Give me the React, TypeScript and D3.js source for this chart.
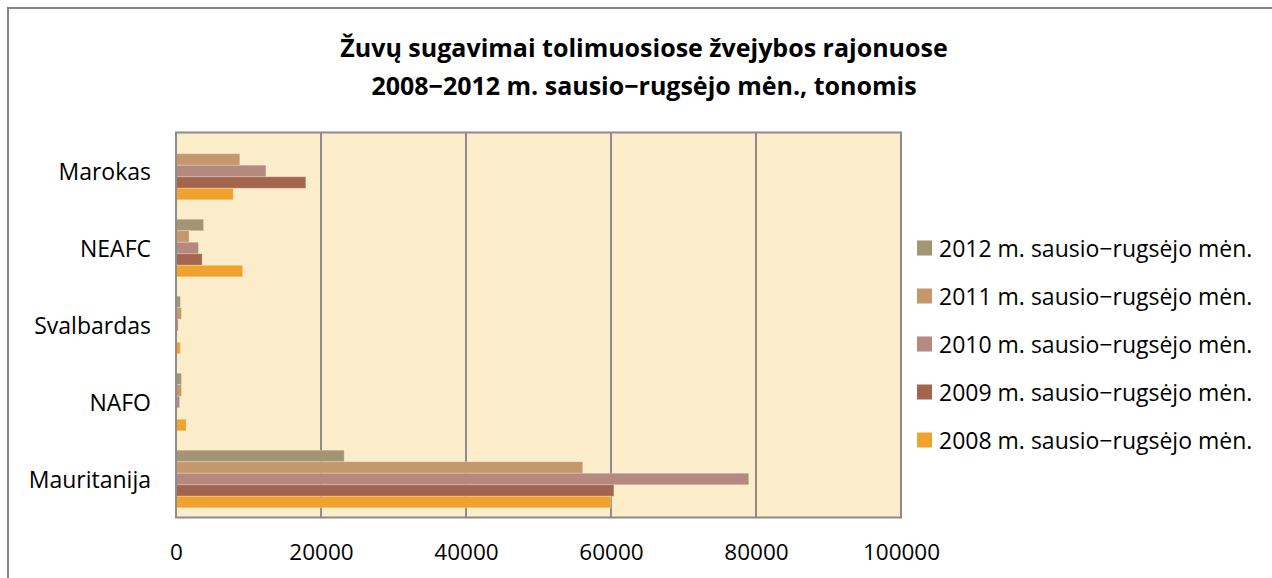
import React, { useEffect, useRef } from "react";
import * as d3 from "d3";

// Fish catches in distant fishing areas, Jan–Sep 2008–2012 (tonnes).
const regions = ["Marokas", "NEAFC", "Svalbardas", "NAFO", "Mauritanija"];
const years = ["2012", "2011", "2010", "2009", "2008"];
const catch2008 = [7900, 9200, 600, 1400, 60000];
const catch2009 = [17900, 3600, 0, 0, 60400];
const catch2010 = [12400, 3100, 300, 500, 79000];
const catch2011 = [8800, 1800, 750, 750, 56100];
const catch2012 = [0, 3800, 600, 750, 23200];
const xTicks = [0, 20000, 40000, 60000, 80000, 100000];
const titleLines = [
  "Žuvų sugavimai tolimuosiose žvejybos rajonuose",
  "2008−2012 m. sausio−rugsėjo mėn., tonomis",
];

const seriesValues: Record<string, number[]> = {
  "2008": catch2008,
  "2009": catch2009,
  "2010": catch2010,
  "2011": catch2011,
  "2012": catch2012,
};

const colors: Record<string, string> = {
  "2012": "#a39572",
  "2011": "#c4976c",
  "2010": "#b5897d",
  "2009": "#a4654f",
  "2008": "#f0a22f",
};

export default function App() {
  const ref = useRef<SVGSVGElement>(null);

  useEffect(() => {
    const svg = d3.select(ref.current);
    svg.selectAll("*").remove();

    const W = 1272;
    const H = 578;
    const plot = { left: 176, right: 901, top: 132.5, bottom: 517.5 };
    const font = "'Open Sans', Lato, sans-serif";
    const grid = "#8c8c8c";

    // outer chart frame (runs past the right and bottom edges)
    svg
      .append("rect")
      .attr("x", 8)
      .attr("y", 8)
      .attr("width", W + 20)
      .attr("height", H + 20)
      .attr("fill", "#fff")
      .attr("stroke", "#858585")
      .attr("stroke-width", 2);

    svg
      .append("g")
      .selectAll("text")
      .data(titleLines)
      .join("text")
      .attr("x", 644)
      .attr("y", (d, i) => 47 + i * 38)
      .attr("text-anchor", "middle")
      .attr("dominant-baseline", "central")
      .attr("font-family", font)
      .attr("font-weight", "bold")
      .attr("font-size", 25)
      .attr("fill", "#000")
      .text((d) => d);

    const x = d3.scaleLinear().domain([0, 100000]).range([plot.left, plot.right]);
    const y0 = d3.scaleBand().domain(regions).range([plot.top, plot.bottom]).padding(0);
    const gap = y0.bandwidth() * 0.126;
    const y1 = d3
      .scaleBand()
      .domain(years)
      .range([gap, y0.bandwidth() - gap])
      .padding(0);

    svg
      .append("rect")
      .attr("x", plot.left)
      .attr("y", plot.top)
      .attr("width", plot.right - plot.left)
      .attr("height", plot.bottom - plot.top)
      .attr("fill", "#fcedca");

    svg
      .append("g")
      .selectAll("line")
      .data(xTicks.slice(1, -1))
      .join("line")
      .attr("x1", (d) => x(d))
      .attr("x2", (d) => x(d))
      .attr("y1", plot.top)
      .attr("y2", plot.bottom)
      .attr("stroke", grid)
      .attr("stroke-width", 2);

    const groups = svg
      .append("g")
      .selectAll("g")
      .data(regions)
      .join("g")
      .attr("transform", (d) => `translate(0,${y0(d)})`);

    years.forEach((yr) => {
      groups
        .append("rect")
        .attr("x", x(0))
        .attr("y", y1(yr)!)
        .attr("width", (d, i) => x(seriesValues[yr][i]) - x(0))
        .attr("height", y1.bandwidth())
        .attr("fill", colors[yr])
        .attr("stroke", "rgba(255,255,255,0.25)")
        .attr("stroke-width", 1);
    });

    svg
      .append("rect")
      .attr("x", plot.left)
      .attr("y", plot.top)
      .attr("width", plot.right - plot.left)
      .attr("height", plot.bottom - plot.top)
      .attr("fill", "none")
      .attr("stroke", grid)
      .attr("stroke-width", 2);

    const xAxis = svg
      .append("g")
      .attr("transform", `translate(0,${plot.bottom})`)
      .call(d3.axisBottom(x).tickValues(xTicks).tickSize(0).tickPadding(0).tickFormat(d3.format("d")));
    xAxis.select(".domain").remove();
    xAxis
      .selectAll("text")
      .attr("y", 34)
      .attr("dy", null)
      .attr("dominant-baseline", "central")
      .attr("font-family", font)
      .attr("font-size", 22.5)
      .attr("fill", "#000");

    const yAxis = svg
      .append("g")
      .attr("transform", `translate(151,0)`)
      .call(d3.axisLeft(y0).tickSize(0).tickPadding(0));
    yAxis.select(".domain").remove();
    yAxis
      .selectAll("text")
      .attr("x", 0)
      .attr("dy", null)
      .attr("dominant-baseline", "central")
      .attr("font-family", font)
      .attr("font-size", 23)
      .attr("fill", "#000");

    const legend = svg
      .append("g")
      .selectAll("g")
      .data(years)
      .join("g")
      .attr("transform", (d, i) => `translate(917,${248 + i * 48})`);
    legend
      .append("rect")
      .attr("x", 0)
      .attr("y", -7.5)
      .attr("width", 15)
      .attr("height", 15)
      .attr("fill", (d) => colors[d]);
    legend
      .append("text")
      .attr("x", 22)
      .attr("y", 0)
      .attr("dominant-baseline", "central")
      .attr("font-family", font)
      .attr("font-size", 23)
      .attr("fill", "#000")
      .text((d) => `${d} m. sausio−rugsėjo mėn.`);
  }, []);

  return (
    <svg
      ref={ref}
      width={1272}
      height={578}
      style={{ position: "absolute", left: 0, top: 0, background: "#fff" }}
    />
  );
}
